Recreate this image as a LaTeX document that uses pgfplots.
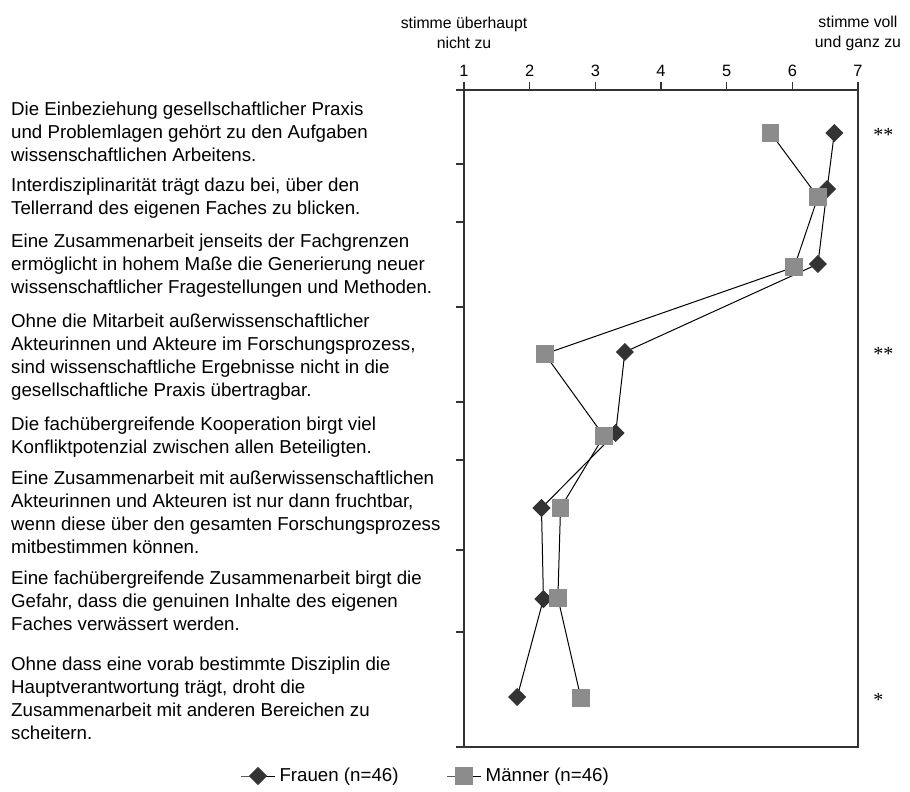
\documentclass[border=0pt]{standalone}
\usepackage{fontspec}
\setmainfont{Liberation Sans}
\newfontfamily\seriffont{Liberation Serif}
\usepackage{pgfplots}
\pgfplotsset{compat=1.18}
\definecolor{dk}{HTML}{333333}
\definecolor{gr}{HTML}{8C8C8C}
\begin{document}
\begin{tikzpicture}
\useasboundingbox (-232pt,-22.5pt) rectangle (223pt,373.5pt);
\begin{axis}[
 scale only axis, width=197pt, height=328.5pt,
 xmin=1, xmax=7, ymin=90, ymax=747, y dir=reverse,
 xtick={1,...,7}, xtick pos=upper, xticklabel pos=upper,
 ytick={90,164,222,307,402,460,550,632,747}, yticklabels={}, ytick pos=left,
 tick align=outside, major tick length=4pt,
 axis line style={black!80, line width=0.8pt},
 tick style={black!80, line width=0.8pt},
 xticklabel style={font=\fontsize{8.2}{9.5}\selectfont, yshift=-1pt},
 /pgf/number format/assume math mode=true,
 clip=false,
 legend columns=2,
 legend style={draw=none, fill=none, at={(0,0)}, anchor=west, xshift=-115pt, yshift=-14.5pt,
   font=\fontsize{9.35}{11}\selectfont,
   /tikz/every even column/.append style={column sep=22pt}},
]
\addplot[black, line width=0.5pt, mark=square*, mark size=2.95pt, mark options={rotate=45, fill=dk, draw=dk}]
 coordinates {(6.64,133) (6.53,189) (6.39,264) (3.45,352) (3.31,433) (2.18,508) (2.21,599) (1.81,697)};
\addlegendentry{Frauen (n=46)}
\addplot[black, line width=0.5pt, mark=square*, mark size=4.15pt, mark options={fill=gr, draw=gr}]
 coordinates {(5.67,133) (6.39,197) (6.03,267) (2.23,354) (3.13,436) (2.47,508) (2.43,598) (2.78,698)};
\addlegendentry{M\"anner (n=46)}

\tikzset{lbl/.style={anchor=north west, align=left, inner sep=0pt, xshift=-226.6pt, font=\fontsize{9.35}{11.35}\selectfont}}
\node[lbl] at (axis cs:1,102) {Die Einbeziehung gesellschaftlicher Praxis\\und Problemlagen gehört zu den Aufgaben\\wissenschaftlichen Arbeitens.};
\node[lbl] at (axis cs:1,178) {Interdisziplinarität trägt dazu bei, über den\\Tellerrand des eigenen Faches zu blicken.};
\node[lbl] at (axis cs:1,234) {Eine Zusammenarbeit jenseits der Fachgrenzen\\ermöglicht in hohem Maße die Generierung neuer\\wissenschaftlicher Fragestellungen und Methoden.};
\node[lbl] at (axis cs:1,314) {Ohne die Mitarbeit außerwissenschaftlicher\\Akteurinnen und Akteure im Forschungsprozess,\\sind wissenschaftliche Ergebnisse nicht in die\\gesellschaftliche Praxis übertragbar.};
\node[lbl] at (axis cs:1,417) {Die fachübergreifende Kooperation birgt viel\\Konfliktpotenzial zwischen allen Beteiligten.};
\node[lbl] at (axis cs:1,471) {Eine Zusammenarbeit mit außerwissenschaftlichen\\Akteurinnen und Akteuren ist nur dann fruchtbar,\\wenn diese über den gesamten Forschungsprozess\\mitbestimmen können.};
\node[lbl] at (axis cs:1,571) {Eine fachübergreifende Zusammenarbeit birgt die\\Gefahr, dass die genuinen Inhalte des eigenen\\Faches verwässert werden.};
\node[lbl] at (axis cs:1,657) {Ohne dass eine vorab bestimmte Disziplin die\\Hauptverantwortung trägt, droht die\\Zusammenarbeit mit anderen Bereichen zu\\scheitern.};

\tikzset{ast/.style={anchor=west, inner sep=0pt, xshift=7.5pt, font=\seriffont\fontsize{10}{12}\selectfont}}
\node[ast] at (axis cs:7,135) {**};
\node[ast] at (axis cs:7,354) {**};
\node[ast] at (axis cs:7,700) {*};

\tikzset{hdr/.style={align=center, inner sep=0pt, font=\fontsize{7.9}{10}\selectfont}}
\node[hdr] at (axis cs:1,33) {stimme überhaupt\\nicht zu};
\node[hdr] at (axis cs:7,33) {stimme voll\\und ganz zu};
\end{axis}
\end{tikzpicture}
\end{document}
